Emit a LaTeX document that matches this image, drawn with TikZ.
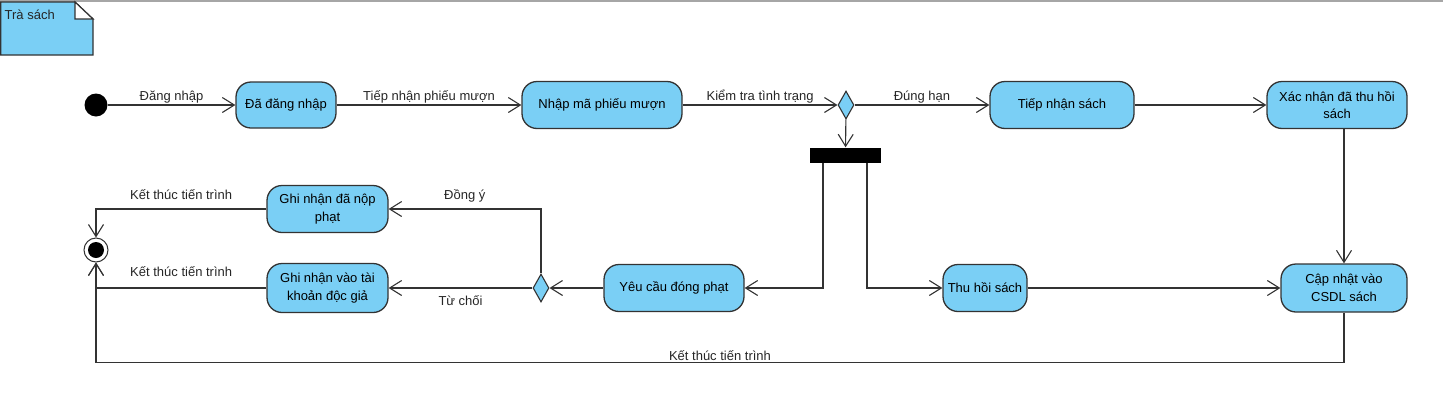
\documentclass[tikz,border=0pt]{standalone}
\usepackage{fontspec}
\setmainfont{Liberation Sans}
\usepackage{tikz}
\usetikzlibrary{arrows.meta,positioning,shapes.geometric,calc}
\definecolor{actblue}{RGB}{122,207,245}
\definecolor{linegray}{RGB}{51,51,51}

\begin{document}
\begin{tikzpicture}[x=1pt, y=-1pt,
    font=\fontsize{13}{17.5}\selectfont,
    act/.style={rectangle, rounded corners=15pt, draw=linegray, line width=1.3pt, fill=actblue, inner sep=0pt, align=center},
    dec/.style={diamond, draw=linegray, line width=1.1pt, fill=actblue, inner sep=0pt, minimum width=16pt, minimum height=28pt},
    flow/.style={-{Straight Barb[length=12pt,width=15pt]}, draw=linegray, line width=1.1pt},
    lbl/.style={text=black!85, inner sep=1.5pt}]
         \useasboundingbox (0,0) rectangle (1443,413);
         \draw[gray!70, line width=1.5pt] (0,0.75) -- (1443,0.75);

         % Note
         \draw[draw=linegray, fill=actblue, line width=1.2pt] (0.7,2) -- (75,2) -- (93,19) -- (93,55) -- (0.7,55) -- cycle;
         \draw[draw=linegray, fill=white, line width=1.2pt] (75,2) -- (75,19) -- (93,19) -- cycle;
         \node[lbl, anchor=west] (notetxt) at (3,15) {Trà sách};

         % Define nodes
         \node[circle, fill=black, minimum size=23pt, inner sep=0pt] (start) at (96,105) {};
         \node[act, minimum width=100pt, minimum height=46pt] (ddn) at (286,105) {Đã đăng nhập};
         \node[act, minimum width=160pt, minimum height=47pt] (nmp) at (602,105) {Nhập mã phiếu mượn};
         \node[dec] (d1) at (846,105) {};
         \node[act, minimum width=144pt, minimum height=47pt] (tns) at (1062,105) {Tiếp nhận sách};
         \node[act, minimum width=140pt, minimum height=47pt] (xn) at (1337,105) {Xác nhận đã thu hồi\\sách};
         \node[rectangle, fill=black, minimum width=71pt, minimum height=15pt, inner sep=0pt] (fork) at (845.5,155) {};
         \node[act, minimum width=140pt, minimum height=47pt] (ycdp) at (674,288) {Yêu cầu đóng phạt};
         \node[act, minimum width=84pt, minimum height=47pt] (ths) at (985,288) {Thu hồi sách};
         \node[act, minimum width=126pt, minimum height=48pt] (cn) at (1344,288) {Cập nhật vào\\CSDL sách};
         \node[dec] (d2) at (541,288) {};
         \node[act, minimum width=121pt, minimum height=47pt] (gn1) at (327.5,209) {Ghi nhận đã nộp\\phạt};
         \node[act, minimum width=121pt, minimum height=49pt] (gn2) at (327.5,288) {Ghi nhận vào tài\\khoản độc giả};
         \node[circle, draw=linegray, line width=1pt, fill=white, minimum size=24pt, inner sep=0pt] (stop) at (96,250) {};
         \node[circle, fill=black, minimum size=16pt, inner sep=0pt] (stopdot) at (stop) {};

         % Draw edges
         \draw[flow] (start) -- (ddn) node[lbl, midway, above] {Đăng nhập};
         \draw[flow] (ddn) -- (nmp) node[lbl, midway, above] {Tiếp nhận phiếu mượn};
         \draw[flow] (nmp) -- (d1) node[lbl, midway, above] {Kiểm tra tình trạng};
         \draw[flow] (d1) -- (tns) node[lbl, midway, above] {Đúng hạn};
         \draw[flow] (tns) -- (xn);
         \draw[flow] (xn.south -| cn.north) -- (cn.north);
         \draw[flow] (d1) -- (fork);
         \draw[flow] ([xshift=-22.5pt]fork.south) |- (ycdp);
         \draw[flow] ([xshift=21.5pt]fork.south) |- (ths);
         \draw[flow] (ths) -- (cn);
         \draw[flow] (ycdp.west) -- (d2.east);
         \draw[flow] (d2.north) |- (gn1) node[lbl, pos=0.75, above=5pt] {Đồng ý};
         \draw[flow] (d2.west) -- (gn2.east) node[lbl, midway, below=5pt] {Từ chối};
         \draw[flow] (gn1) -| (stop) node[lbl, pos=0.25, above=7pt] {Kết thúc tiến trình};
         \draw[flow] (gn2) -| (stop) node[lbl, pos=0.25, above=9pt] {Kết thúc tiến trình};
         \draw[flow] (cn.south) -- ++(0,50) -| (stop) node[lbl, pos=0.25, above] {Kết thúc tiến trình};
      \end{tikzpicture}
\end{document}
